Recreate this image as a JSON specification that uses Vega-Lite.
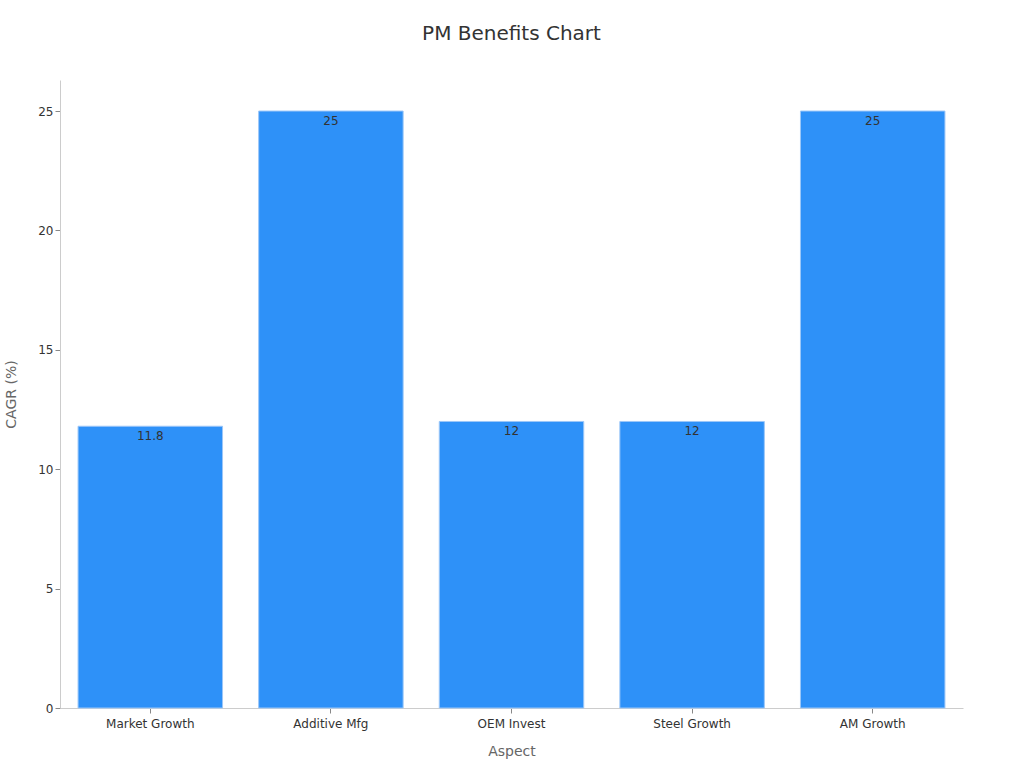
{
  "$schema": "https://vega.github.io/schema/vega-lite/v6.json",
  "autosize": "none",
  "width": 903,
  "height": 628,
  "padding": {"left": 60, "top": 80, "right": 61, "bottom": 60},
  "background": "white",
  "title": {"text": "PM Benefits Chart", "font": "DejaVu Sans", "fontSize": 20, "fontWeight": "normal", "color": "#333333", "offset": 36, "anchor": "middle"},
  "data": {"values": [
    {"Aspect": "Market Growth", "CAGR": 11.8},
    {"Aspect": "Additive Mfg", "CAGR": 25},
    {"Aspect": "OEM Invest", "CAGR": 12},
    {"Aspect": "Steel Growth", "CAGR": 12},
    {"Aspect": "AM Growth", "CAGR": 25}
  ]},
  "config": {
    "view": {"stroke": null},
    "font": "DejaVu Sans",
    "axis": {"labelFont": "DejaVu Sans", "titleFont": "DejaVu Sans", "labelColor": "#333333", "titleColor": "#666666", "titleFontWeight": "normal", "titleFontSize": 14, "labelFontSize": 12, "domainColor": "#cccccc", "tickColor": "#888888", "grid": false}
  },
  "encoding": {
    "x": {"field": "Aspect", "type": "nominal", "sort": null, "scale": {"paddingInner": 0.2, "paddingOuter": 0.1}, "axis": {"labelAngle": 0, "title": "Aspect", "titlePadding": 15, "tickSize": 5, "labelPadding": 5}},
    "y": {"field": "CAGR", "type": "quantitative", "scale": {"domain": [0, 26.3], "nice": false}, "axis": {"title": "CAGR (%)", "values": [0, 5, 10, 15, 20, 25], "tickSize": 5, "titlePadding": 19}}
  },
  "layer": [
    {"mark": {"type": "bar", "color": "#2E91F8", "stroke": "#9cc7f8", "strokeWidth": 1}},
    {"mark": {"type": "text", "baseline": "top", "dy": 5, "fontSize": 12, "color": "#333333"}, "encoding": {"text": {"field": "CAGR", "type": "quantitative"}}}
  ]
}
